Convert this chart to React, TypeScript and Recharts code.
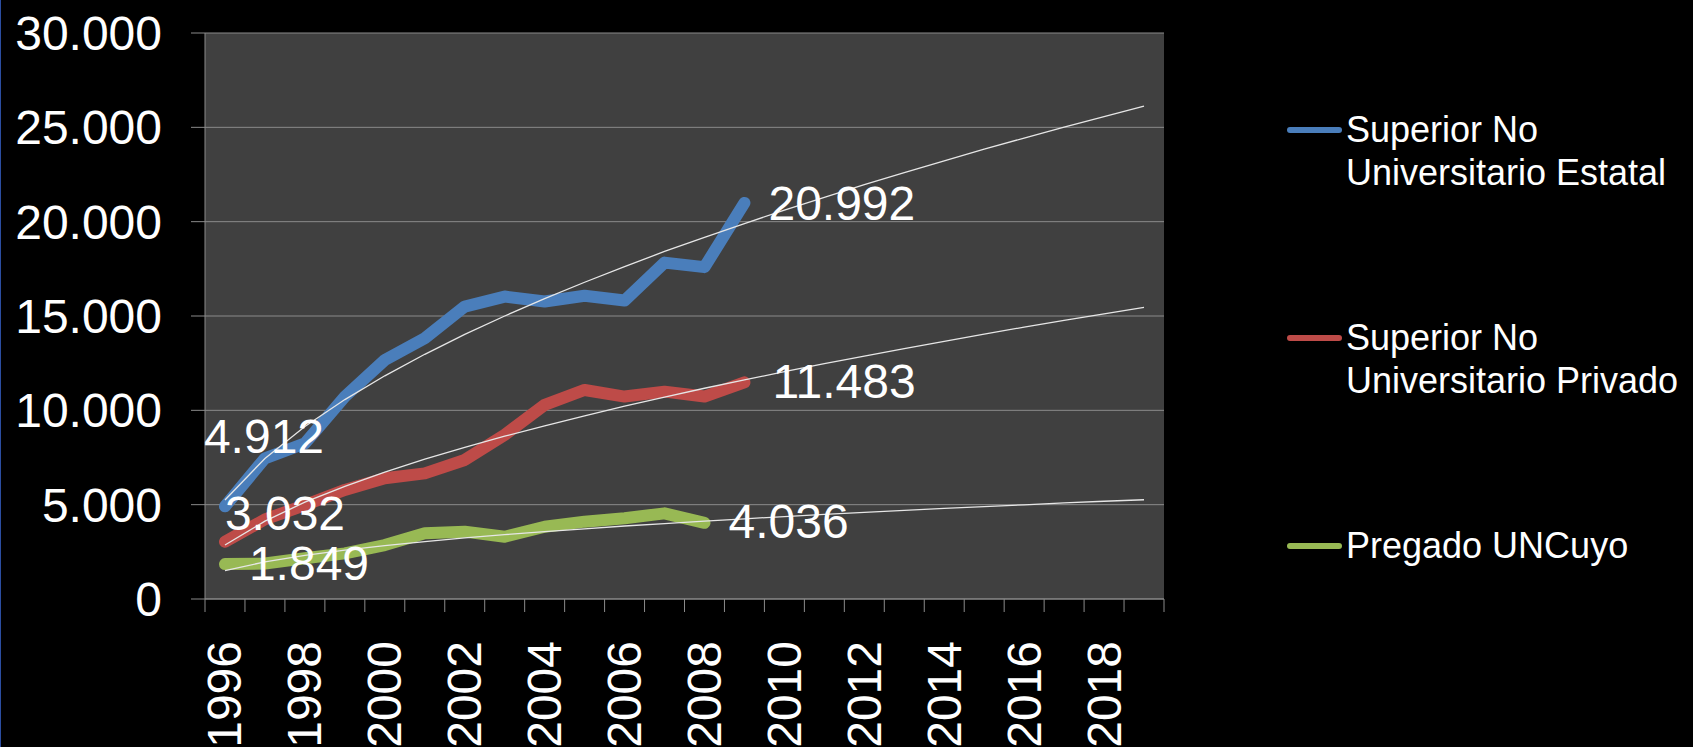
import React from 'react';
import {
  LineChart,
  Line,
  XAxis,
  YAxis,
  CartesianGrid,
  Legend,
  LabelList,
} from 'recharts';

const FONT = '"Liberation Sans", Arial, Helvetica, sans-serif';
const GRID = '#8a8a8a';
const PLOT_BG = '#404040';

// categories
const YEARS = [
  1996, 1997, 1998, 1999, 2000, 2001, 2002, 2003, 2004, 2005, 2006, 2007,
  2008, 2009, 2010, 2011, 2012, 2013, 2014, 2015, 2016, 2017, 2018, 2019,
];
const X_LABEL_YEARS = [1996, 1998, 2000, 2002, 2004, 2006, 2008, 2010, 2012, 2014, 2016, 2018];
const Y_TICKS = [0, 5000, 10000, 15000, 20000, 25000, 30000];

// series
const ESTATAL = [4912, 7460, 8250, 10730, 12670, 13820, 15500, 16030, 15770, 16070, 15820, 17830, 17590, 20992];
const PRIVADO = [3032, 4220, 4980, 5780, 6400, 6660, 7370, 8700, 10290, 11080, 10730, 10990, 10730, 11483];
const UNCUYO = [1849, 1880, 2160, 2420, 2860, 3480, 3570, 3300, 3830, 4100, 4280, 4540, 4036];

// trend lines, one value per year 1996-2019
const TREND_ESTATAL = [
  5250, 7450, 9140, 10570, 11830, 12970, 14030, 15000, 15920, 16790, 17620, 18420,
  19170, 19900, 20610, 21290, 21960, 22600, 23220, 23840, 24430, 25010, 25570, 26130,
];
const TREND_PRIVADO = [
  2860, 4130, 5130, 5970, 6720, 7410, 8040, 8630, 9180, 9710, 10220, 10700,
  11170, 11610, 12050, 12470, 12870, 13270, 13660, 14040, 14410, 14770, 15110, 15460,
];
const TREND_UNCUYO = [
  1500, 1970, 2310, 2590, 2830, 3040, 3240, 3410, 3570, 3720, 3870, 4000,
  4130, 4250, 4370, 4490, 4590, 4700, 4800, 4900, 4990, 5090, 5180, 5260,
];

const SERIES = [
  { key: 'estatal', name: 'Superior No Universitario Estatal', color: '#4a7ebb', values: ESTATAL, trend: TREND_ESTATAL },
  { key: 'privado', name: 'Superior No Universitario Privado', color: '#be4b48', values: PRIVADO, trend: TREND_PRIVADO },
  { key: 'uncuyo', name: 'Pregado UNCuyo', color: '#98b954', values: UNCUYO, trend: TREND_UNCUYO },
];

// where the first / last value labels sit relative to their point
const LABEL_POS: Record<string, { first: number[]; last: number[] }> = {
  estatal: { first: [39, -53], last: [24, 17] },
  privado: { first: [60, -12], last: [28, 16] },
  uncuyo: { first: [84, 16], last: [24, 15] },
};

const fmt = (n: number) => String(n).replace(/\B(?=(\d{3})+(?!\d))/g, '.');

const data = YEARS.map((year, i) => {
  const row: Record<string, number | null> = { year };
  SERIES.forEach((s) => {
    row[s.key] = i < s.values.length ? s.values[i] : null;
    row[`${s.key}Trend`] = s.trend[i];
  });
  return row;
});

const xTicks = [
  ...YEARS.map((y) => y - 0.5),
  YEARS[YEARS.length - 1] + 0.5,
  ...X_LABEL_YEARS,
].sort((a, b) => a - b);

function XTick(props: any) {
  const { x, y, payload } = props;
  const v = payload.value;
  if (!Number.isInteger(v)) {
    return <line x1={x} x2={x} y1={y} y2={y + 13} stroke={GRID} strokeWidth={1} />;
  }
  const ty = y + 42;
  return (
    <text
      x={x}
      y={ty}
      transform={`rotate(-90, ${x}, ${ty})`}
      textAnchor="end"
      dominantBaseline="central"
      fill="#ffffff"
      fontSize={48}
      fontFamily={FONT}
    >
      {v}
    </text>
  );
}

function makeLabel(seriesKey: string, values: number[]) {
  return (props: any) => {
    const { value } = props;
    const x = props.x ?? props.viewBox?.x;
    const y = props.y ?? props.viewBox?.y;
    if (value == null || x == null || y == null) return null;
    const idx = props.index;
    const isFirst = idx != null ? idx === 0 : value === values[0];
    const isLast = idx != null ? idx === values.length - 1 : value === values[values.length - 1];
    if (!isFirst && !isLast) return null;
    const [dx, dy] = isFirst ? LABEL_POS[seriesKey].first : LABEL_POS[seriesKey].last;
    return (
      <text
        x={x + dx}
        y={y + dy}
        textAnchor={isFirst ? 'middle' : 'start'}
        fill="#ffffff"
        fontSize={48}
        fontFamily={FONT}
      >
        {fmt(value)}
      </text>
    );
  };
}

function LegendBox(props: any) {
  const order = SERIES.map((s) => s.name);
  const items = (props.payload || [])
    .filter((p: any) => p.type !== 'none' && order.includes(p.value))
    .sort((a: any, b: any) => order.indexOf(a.value) - order.indexOf(b.value));
  return (
    <div style={{ fontFamily: FONT, color: '#fff' }}>
      {items.map((item: any) => (
        <div key={item.value} style={{ height: 208, display: 'flex', alignItems: 'flex-start' }}>
          <div
            style={{
              width: 55,
              height: 6,
              borderRadius: 3,
              background: item.color,
              marginTop: 19,
              marginRight: 4,
              flex: 'none',
            }}
          />
          <div style={{ fontSize: 36, lineHeight: '43px', width: 350 }}>{item.value}</div>
        </div>
      ))}
    </div>
  );
}

export default function App() {
  return (
    <div
      style={{
        position: 'fixed',
        left: 0,
        top: 0,
        width: 1693,
        height: 747,
        background: '#000',
        overflow: 'hidden',
        borderLeft: '1px solid #2b4da0',
        boxSizing: 'border-box',
      }}
    >
      <LineChart
        width={1692}
        height={747}
        data={data}
        margin={{ top: 33, right: 529, bottom: 0, left: 0 }}
      >
        <CartesianGrid vertical={false} stroke={GRID} fill={PLOT_BG} fillOpacity={1} />
        <XAxis
          dataKey="year"
          type="number"
          domain={[1995.5, 2019.5]}
          ticks={xTicks}
          interval={0}
          tick={<XTick />}
          tickLine={false}
          tickSize={0}
          tickMargin={0}
          height={148}
          axisLine={{ stroke: GRID }}
        />
        <YAxis
          domain={[0, 30000]}
          ticks={Y_TICKS}
          interval={0}
          width={204}
          tickSize={14}
          tickMargin={29}
          tickFormatter={fmt}
          tick={{ fill: '#ffffff', fontSize: 48, fontFamily: FONT }}
          tickLine={{ stroke: GRID }}
          axisLine={{ stroke: GRID }}
        />
        <Legend
          layout="vertical"
          align="center"
          verticalAlign="middle"
          width={400}
          wrapperStyle={{ left: 1286, top: 108 }}
          content={<LegendBox />}
        />
        {SERIES.map((s) => (
          <Line
            key={s.key}
            dataKey={s.key}
            name={s.name}
            stroke={s.color}
            strokeWidth={12}
            strokeLinecap="round"
            strokeLinejoin="round"
            dot={false}
            activeDot={false}
            isAnimationActive={false}
          >
            <LabelList dataKey={s.key} content={makeLabel(s.key, s.values)} />
          </Line>
        ))}
        {SERIES.map((s) => (
          <Line
            key={`${s.key}Trend`}
            dataKey={`${s.key}Trend`}
            legendType="none"
            stroke="#e6e6e6"
            strokeWidth={1.3}
            dot={false}
            activeDot={false}
            isAnimationActive={false}
          />
        ))}
      </LineChart>
    </div>
  );
}
